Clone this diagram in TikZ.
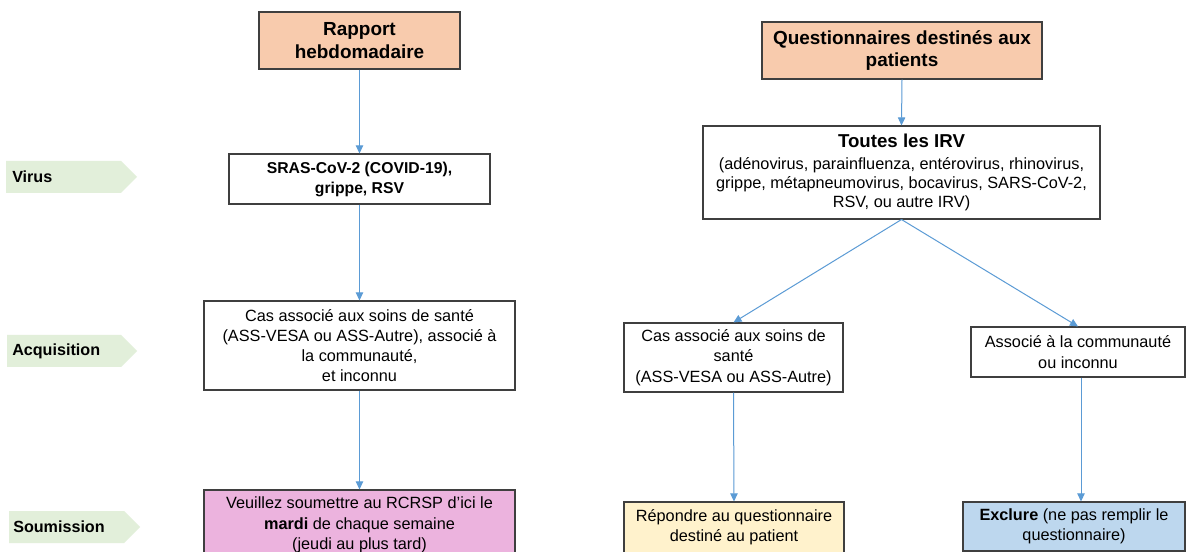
\documentclass[tikz,border=0pt]{standalone}
\usepackage{fontspec}
\setmainfont{Liberation Sans}
\usetikzlibrary{arrows.meta}
\definecolor{peach}{HTML}{F8CBAD}
\definecolor{pinkbox}{HTML}{ECB3DE}
\definecolor{yellowbox}{HTML}{FFF2CC}
\definecolor{bluebox}{HTML}{BDD7EE}
\definecolor{chev}{HTML}{E2EFDA}
\definecolor{arrowblue}{HTML}{5B9BD5}
\definecolor{bordercol}{HTML}{3F3F3F}
\begin{document}
\begin{tikzpicture}[x=0.75pt,y=-0.75pt,
  box/.style={draw=bordercol, line width=0.8pt, inner sep=0pt, rectangle, align=center},
  body/.style={font=\fontsize{12.2}{15.2}\selectfont},
  ttl/.style={font=\fontsize{14.2}{16.8}\selectfont\bfseries},
  arr/.style={draw=arrowblue, line width=0.75pt, -{Triangle[width=5.5pt,length=6pt]}},
  chevlabel/.style={anchor=west, inner sep=0pt, font=\fontsize{12.1}{14}\selectfont\bfseries}]
\useasboundingbox (0,0) rectangle (1186,552);
\clip (0,0) rectangle (1186,552);
\fill[white] (0,0) rectangle (1186,552);

% left-hand chevrons
\fill[chev] (6,161) -- (121,161) -- (137,177) -- (121,193) -- (6,193) -- cycle;
\fill[chev] (7,335) -- (121,335) -- (137,351) -- (121,367) -- (7,367) -- cycle;
\fill[chev] (9,511) -- (124,511) -- (140,527) -- (124,543) -- (9,543) -- cycle;
\node[chevlabel] (lvirus) at (12,177) {Virus};
\node[chevlabel] (lacq) at (12,351) {Acquisition};
\node[chevlabel] (lsoum) at (13,527) {Soumission};

% left column
\node[box, ttl, fill=peach, minimum width=201*0.75pt, minimum height=57*0.75pt] (rap) at (359.5,40.5) {Rapport\\hebdomadaire};
\node[box, font=\fontsize{11.8}{15}\selectfont\bfseries, minimum width=261*0.75pt, minimum height=50*0.75pt] (sras) at (359.5,179) {SRAS-CoV-2 (COVID-19),\\grippe, RSV};
\node[box, body, minimum width=311*0.75pt, minimum height=89*0.75pt] (acq) at (359.5,345.5) {Cas associé aux soins de santé\\(ASS-VESA ou ASS-Autre), associé à\\la communauté,\\et inconnu};
\node[box, body, fill=pinkbox, minimum width=311*0.75pt, minimum height=70*0.75pt] (sou) at (359.5,525) {Veuillez soumettre au RCRSP d’ici le\\\textbf{mardi} de chaque semaine\\(jeudi au plus tard)};

% right column
\node[box, ttl, fill=peach, minimum width=280*0.75pt, minimum height=57*0.75pt] (que) at (902,50.5) {Questionnaires destinés aux\\patients};
\node[box, font=\fontsize{12.2}{14.1}\selectfont, minimum width=397*0.75pt, minimum height=93*0.75pt] (irv) at (901.5,172.5) {{\fontsize{14}{14.1}\selectfont\bfseries Toutes les IRV}\\[2.7pt](adénovirus, parainfluenza, entérovirus, rhinovirus,\\grippe, métapneumovirus, bocavirus, SARS-CoV-2,\\RSV, ou autre IRV)};
\node[box, body, minimum width=219*0.75pt, minimum height=69*0.75pt] (casR) at (733.5,357.5) {Cas associé aux soins de\\santé\\(ASS-VESA ou ASS-Autre)};
\node[box, body, minimum width=214*0.75pt, minimum height=50*0.75pt] (assoc) at (1078,352) {Associé à la communauté\\ou inconnu};
\node[box, body, fill=yellowbox, minimum width=220*0.75pt, minimum height=51*0.75pt] (rep) at (734,527.5) {Répondre au questionnaire\\destiné au patient};
\node[box, body, fill=bluebox, minimum width=222*0.75pt, minimum height=49*0.75pt] (exc) at (1074,526.5) {\textbf{Exclure} (ne pas remplir le\\questionnaire)};

% connectors
\coordinate (ax) at (1081,0);
\draw[arr] (rap.south) -- (sras.north);
\draw[arr] (sras.south) -- (acq.north);
\draw[arr] (acq.south) -- (sou.north);
\draw[arr] (que.south) -- (irv.north);
\draw[arr] (irv.south) -- (casR.north);
\draw[arr] (irv.south) -- (assoc.north);
\draw[arr] (casR.south) -- (rep.north);
\draw[arr] (assoc.south -| ax) -- (exc.north -| ax);
\end{tikzpicture}
\end{document}
